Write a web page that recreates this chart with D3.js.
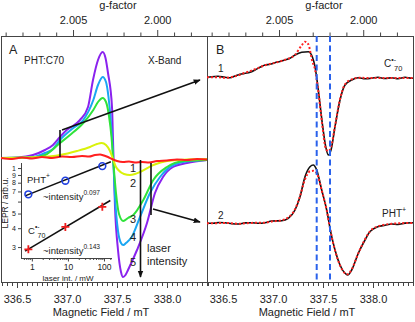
<!DOCTYPE html>
<html><head><meta charset="utf-8">
<script src="https://cdn.jsdelivr.net/npm/d3@7"></script>
<style>
body{margin:0;background:#fff}
svg{display:block}
text{font-family:"Liberation Sans",Arial,sans-serif;fill:#222}
</style>
</head><body>
<svg id="chart" width="415" height="322"></svg>
<script>
// ---------------- DATA ----------------
const fieldDomain = [336.34, 338.40];           // mT
const fieldTicks = [336.5, 337.0, 337.5, 338.0];
const gConst = 675.8;                           // g * B (mT)
const gTicks = [2.005, 2.000];
const curveLabels = ["1", "2", "3", "4", "5"];
const curveColors = ["#ff1f1f", "#d9f20a", "#2fe33a", "#1aa6f2", "#8a22ee"];

// Panel A: light-induced EPR spectra, [field mT, signal arb.u.]
const specA1 = [[336.34,0.1],[336.45,0.0],[336.55,0.15],[336.65,0.05],[336.75,0.2],[336.85,0.1],[336.95,0.25],[337.05,0.2],[337.15,0.3],[337.22,0.25],[337.28,0.4],[337.33,0.45],[337.37,0.35],[337.41,0.2],[337.45,0.0],[337.5,-0.2],[337.56,-0.3],[337.62,-0.25],[337.68,-0.35],[337.75,-0.3],[337.82,-0.35],[337.9,-0.2],[338.0,-0.15],[338.1,-0.05],[338.2,-0.1],[338.3,0.0],[338.4,-0.05]];
const specA2 = [[336.34,0.1],[336.73,0.2],[336.93,0.4],[337.10,0.8],[337.23,1.2],[337.30,1.5],[337.347,1.6],[337.39,1.4],[337.43,0.8],[337.46,0.0],[337.49,-0.8],[337.513,-1.1],[337.57,-1.5],[337.63,-1.6],[337.68,-1.5],[337.73,-1.3],[337.863,-0.6],[338.0,-0.2],[338.2,-0.05],[338.4,0.0]];
const specA3 = [[336.34,0.1],[336.66,0.15],[336.78,0.4],[336.93,1.6],[337.03,2.4],[337.163,3.6],[337.263,4.9],[337.31,5.7],[337.357,6.1],[337.39,5.7],[337.42,4.3],[337.445,2.2],[337.465,-0.5],[337.49,-3.4],[337.52,-5.5],[337.563,-6.2],[337.61,-5.9],[337.663,-5.6],[337.763,-4.1],[337.863,-2.1],[338.0,-0.8],[338.163,-0.2],[338.4,-0.1]];
const specA4 = [[336.34,0.1],[336.66,0.2],[336.78,0.6],[336.86,1.0],[336.93,1.9],[337.063,3.1],[337.163,3.9],[337.263,5.9],[337.31,7.4],[337.357,8.2],[337.39,7.7],[337.415,6.2],[337.44,3.6],[337.46,0.5],[337.48,-3.8],[337.51,-7.2],[337.54,-8.4],[337.563,-8.6],[337.59,-8.4],[337.647,-7.8],[337.73,-5.8],[337.83,-3.4],[337.93,-1.8],[338.063,-0.6],[338.23,-0.2],[338.4,-0.1]];
const specA5 = [[336.34,0.1],[336.5,0.15],[336.66,0.4],[336.78,0.9],[336.86,1.4],[336.93,2.2],[336.997,2.9],[337.06,3.3],[337.13,3.9],[337.21,5.2],[337.26,7.9],[337.31,9.9],[337.357,10.7],[337.385,10.1],[337.41,8.6],[337.45,5.2],[337.46,1.9],[337.48,-4.8],[337.51,-9.1],[337.54,-11.3],[337.56,-11.8],[337.585,-11.6],[337.61,-11.1],[337.70,-9.1],[337.80,-6.4],[337.88,-3.4],[337.96,-1.8],[338.06,-0.8],[338.20,-0.4],[338.40,-0.1]];
const specsA = [specA5, specA4, specA3, specA2, specA1];

// Panel B: spectra (black) and simulations (red dotted)
const specB1 = [[336.34,0.0],[336.387,0.006],[336.45,0.01],[336.52,0.0],[336.57,-0.005],[336.62,0.013],[336.67,0.03],[336.72,0.04],[336.77,0.05],[336.82,0.073],[336.87,0.1],[336.92,0.123],[336.97,0.13],[337.02,0.146],[337.07,0.158],[337.12,0.173],[337.17,0.19],[337.22,0.223],[337.287,0.25],[337.353,0.256],[337.393,0.206],[337.42,0.106],[337.453,-0.127],[337.493,-0.46],[337.527,-0.694],[337.553,-0.777],[337.58,-0.727],[337.62,-0.494],[337.67,-0.227],[337.72,-0.077],[337.787,-0.027],[337.853,-0.004],[337.92,-0.015],[337.987,-0.01],[338.05,0.0],[338.12,-0.012],[338.187,-0.004],[338.25,-0.014],[338.32,0.0],[338.387,-0.01],[338.4,-0.01]];
const simB1 = [[336.34,0.0],[336.45,0.0],[336.52,-0.005],[336.62,0.01],[336.72,0.045],[336.82,0.08],[336.92,0.12],[337.02,0.145],[337.12,0.175],[337.22,0.225],[337.287,0.32],[337.32,0.356],[337.353,0.33],[337.393,0.16],[337.42,0.08],[337.453,-0.14],[337.493,-0.48],[337.527,-0.71],[337.553,-0.74],[337.58,-0.7],[337.62,-0.49],[337.67,-0.22],[337.72,-0.07],[337.787,-0.02],[337.853,-0.005],[337.987,-0.008],[338.187,-0.006],[338.4,-0.008]];
const specB2 = [[336.34,0.0],[336.403,0.0],[336.46,0.008],[336.52,0.006],[336.59,-0.004],[336.653,-0.007],[336.72,0.004],[336.787,0.006],[336.85,0.0],[336.92,0.006],[336.987,0.023],[337.087,0.026],[337.153,0.05],[337.22,0.133],[337.27,0.266],[337.32,0.466],[337.37,0.566],[337.403,0.583],[337.437,0.533],[337.487,0.333],[337.537,0.133],[337.58,-0.10],[337.62,-0.267],[337.67,-0.417],[337.72,-0.50],[337.747,-0.517],[337.787,-0.467],[337.853,-0.30],[337.92,-0.167],[337.97,-0.083],[338.053,-0.033],[338.12,-0.02],[338.187,-0.007],[338.25,-0.012],[338.32,0.002],[338.387,0.006],[338.4,0.006]];
const simB2 = [[336.34,0.0],[336.403,0.0],[336.52,0.004],[336.653,-0.004],[336.787,0.004],[336.92,0.006],[336.987,0.018],[337.087,0.03],[337.153,0.06],[337.22,0.14],[337.27,0.27],[337.32,0.44],[337.37,0.52],[337.403,0.525],[337.437,0.5],[337.487,0.33],[337.537,0.13],[337.58,-0.10],[337.62,-0.27],[337.67,-0.42],[337.72,-0.50],[337.747,-0.51],[337.787,-0.46],[337.853,-0.30],[337.92,-0.16],[337.97,-0.08],[338.053,-0.03],[338.187,-0.005],[338.4,0.004]];
const offsetsB = [2.047, 0.587];
const markerFields = [337.437, 337.57];

// Inset: intensity dependence
const laserPower = [0.8, 8.5, 90];             // mW
const phtSignal = [6.7, 8.25, 10.3];
const c70Signal = [2.9, 4.08, 5.54];
const phtFit = [[0.65, 6.55], [155, 11.0]];
const c70Fit = [[0.65, 2.82], [150, 6.1]];
const insetYTicks = [3, 4, 5, 6, 7, 8, 9, 10];
const insetXTicks = [1, 10, 100];

// Annotation arrows in panel A (field, signal)
const arrowUp = [[336.95, 2.9], [338.33, 7.9]];
const barUp = [[336.93, 2.9], [336.93, 0.2]];
const arrowDown = [[337.735, -0.1], [337.735, -11.8]];
const barDown = [[337.84, -0.4], [337.84, -5.6]];
const arrowSide = [[337.86, -5.0], [338.33, -6.3]];

// ---------------- DRAW ----------------
const svg = d3.select("#chart");
const yTop = 36, yBot = 282;
const xA = d3.scaleLinear().domain(fieldDomain).range([1, 207]);
const xB = d3.scaleLinear().domain(fieldDomain).range([207, 413]);
const yA = d3.scaleLinear().domain([-12.3, 12.3]).range([yBot, yTop]);
const yB = d3.scaleLinear().domain([0, 2.46]).range([yBot, yTop]);

const defs = svg.append("defs");
defs.append("clipPath").attr("id","clipA").append("rect").attr("x",1).attr("y",yTop).attr("width",206).attr("height",yBot-yTop);
defs.append("clipPath").attr("id","clipB").append("rect").attr("x",207).attr("y",yTop).attr("width",206).attr("height",yBot-yTop);
defs.append("marker").attr("id","ah").attr("viewBox","0 0 10 10").attr("refX",9).attr("refY",5)
  .attr("markerWidth",7).attr("markerHeight",7).attr("markerUnits","userSpaceOnUse").attr("orient","auto")
  .append("path").attr("d","M0,1 L10,5 L0,9 Z").attr("fill","#111");

function drawAxes(x) {
  const g = d3.scaleLinear().domain([gConst/fieldDomain[0], gConst/fieldDomain[1]]).range(x.range());
  const minor = d3.range(336.35, 338.401, 0.05).filter(v => Math.abs(v*2 - Math.round(v*2)) > 1e-6);
  svg.append("g").attr("transform",`translate(0,${yBot})`)
    .call(d3.axisBottom(x).tickValues(minor).tickSize(4).tickFormat(""))
    .call(s => s.select(".domain").remove()).selectAll("line").attr("stroke","#444");
  svg.append("g").attr("transform",`translate(0,${yBot})`)
    .call(d3.axisBottom(x).tickValues(fieldTicks).tickSize(6).tickPadding(7).tickFormat(d3.format(".1f")))
    .call(s => s.select(".domain").remove())
    .call(s => s.selectAll("line").attr("stroke","#444"))
    .call(s => s.selectAll("text").attr("font-size",11).attr("font-family","Liberation Sans, Arial").attr("fill","#222"));
  const gMinor = d3.range(1.997, 2.0095, 0.001).filter(v => v <= g.domain()[0] && v >= g.domain()[1] && Math.abs(v*200 - Math.round(v*200)) > 1e-6);
  svg.append("g").attr("transform",`translate(0,${yTop})`)
    .call(d3.axisTop(g).tickValues(gMinor).tickSize(3.5).tickFormat(""))
    .call(s => s.select(".domain").remove()).selectAll("line").attr("stroke","#444");
  svg.append("g").attr("transform",`translate(0,${yTop})`)
    .call(d3.axisTop(g).tickValues(gTicks).tickSize(6).tickPadding(6).tickFormat(d3.format(".3f")))
    .call(s => s.select(".domain").remove())
    .call(s => s.selectAll("line").attr("stroke","#444"))
    .call(s => s.selectAll("text").attr("font-size",11).attr("font-family","Liberation Sans, Arial").attr("fill","#222"));
  const r = x.range();
  svg.append("rect").attr("x",r[0]+0.5).attr("y",yTop+0.5).attr("width",r[1]-r[0]).attr("height",yBot-yTop)
    .attr("fill","none").attr("stroke","#444").attr("stroke-width",1);
  svg.append("text").attr("x", r[0]+117).attr("y",9).attr("text-anchor","middle").attr("font-size",11).text("g-factor");
  svg.append("text").attr("x", r[0]+100).attr("y",316).attr("text-anchor","middle").attr("font-size",11).text("Magnetic Field / mT");
}
drawAxes(xA);
drawAxes(xB);

// Panel A spectra
const lineA = d3.line().x(d => xA(d[0])).y(d => yA(d[1])).curve(d3.curveMonotoneX);
const gA = svg.append("g").attr("clip-path","url(#clipA)");
specsA.forEach((s,i) => {
  gA.append("path").datum(s).attr("d", lineA).attr("fill","none")
    .attr("stroke", curveColors[4-i]).attr("stroke-width",2).attr("stroke-linejoin","round");
});

// Annotations A
const la = d3.line().x(d => xA(d[0])).y(d => yA(d[1]));
[barUp, barDown].forEach(b => svg.append("path").datum(b).attr("d",la).attr("stroke","#111").attr("stroke-width",1.6));
[arrowUp, arrowDown, arrowSide].forEach(a => svg.append("path").datum(a).attr("d",la).attr("stroke","#111")
  .attr("stroke-width",1.6).attr("marker-end","url(#ah)"));

// labels A
svg.append("text").attr("x",9).attr("y",54).attr("font-size",12.5).text("A");
svg.append("text").attr("x",24).attr("y",64).attr("font-size",10).text("PHT:C70");
svg.append("text").attr("x",148).attr("y",64).attr("font-size",10).text("X-Band");
const labY = [172, 187, 223, 241, 266];
curveLabels.forEach((t,i) => svg.append("text").attr("x",133).attr("y",labY[i]).attr("text-anchor","middle").attr("font-size",11).text(t));
svg.append("text").attr("x",147).attr("y",252).attr("font-size",11).text("laser");
svg.append("text").attr("x",147).attr("y",265).attr("font-size",11).text("intensity");

// Inset
const ix = d3.scaleLog().domain([0.5, 167]).range([21, 112]);
const iy = d3.scaleLog().domain([2.54, 10.8]).range([258, 163]);
svg.append("line").attr("x1",21.5).attr("x2",21.5).attr("y1",163).attr("y2",258).attr("stroke","#444");
svg.append("line").attr("x1",21).attr("x2",112).attr("y1",258.5).attr("y2",258.5).attr("stroke","#444");
svg.append("g").attr("transform","translate(21,0)")
  .call(d3.axisLeft(iy).tickValues(insetYTicks).tickSize(3).tickPadding(2).tickFormat(d => d===10 ? "1" : (d===6 ? "" : d)))
  .call(s => s.select(".domain").remove())
  .call(s => s.selectAll("line").attr("stroke","#444"))
  .call(s => s.selectAll("text").attr("font-size",7).attr("fill","#222"));
const ixMinor = [0.6,0.7,0.8,0.9,2,3,4,5,6,7,8,9,20,30,40,50,60,70,80,90,150];
svg.append("g").attr("transform","translate(0,258)")
  .call(d3.axisBottom(ix).tickValues(ixMinor).tickSize(2).tickFormat(""))
  .call(s => s.select(".domain").remove()).selectAll("line").attr("stroke","#444");
svg.append("g").attr("transform","translate(0,258)")
  .call(d3.axisBottom(ix).tickValues(insetXTicks).tickSize(3.5).tickPadding(2.5).tickFormat(d3.format("d")))
  .call(s => s.select(".domain").remove())
  .call(s => s.selectAll("line").attr("stroke","#444"))
  .call(s => s.selectAll("text").attr("font-size",8.5).attr("fill","#222"));
svg.append("text").attr("x",68).attr("y",281).attr("text-anchor","middle").attr("font-size",8).text("laser int. / mW");
svg.append("text").attr("transform","translate(8,203) rotate(-90)").attr("text-anchor","middle").attr("font-size",8.5).text("LEPR / arb.u.");

const li = d3.line().x(d => ix(d[0])).y(d => iy(d[1]));
[phtFit, c70Fit].forEach(f => svg.append("path").datum(f).attr("d",li).attr("stroke","#111").attr("stroke-width",1.5));
svg.selectAll(".pht").data(laserPower.map((p,i)=>[p, phtSignal[i]])).enter().append("circle")
  .attr("cx", d => ix(d[0])).attr("cy", d => iy(d[1])).attr("r",3.4)
  .attr("fill","none").attr("stroke","#1f3fe0").attr("stroke-width",1.6);
svg.selectAll(".c70").data(laserPower.map((p,i)=>[p, c70Signal[i]])).enter().append("path")
  .attr("d", d => { const cx = ix(d[0]), cy = iy(d[1]); return `M${cx-4},${cy}H${cx+4}M${cx},${cy-4}V${cy+4}`; })
  .attr("stroke","#ee1c1c").attr("stroke-width",1.8);

function supText(x, y, base, sup, sub, fs) {
  const t = svg.append("text").attr("x",x).attr("y",y).attr("font-size",fs);
  t.append("tspan").text(base);
  if (sup) t.append("tspan").attr("dy",-5).attr("font-size",fs*0.7).text(sup);
  if (sub) t.append("tspan").attr("dy", sup ? 9 : 3).attr("dx", sup ? -2 : 0).attr("font-size",fs*0.75).text(sub);
}
supText(27, 183, "PHT", "+", null, 9.5);
supText(43, 200, "~intensity", "0.097", null, 9.5);
supText(28, 234, "C", "•-", "70", 9.5);
supText(43, 254, "~intensity", "0.143", null, 9.5);

// Panel B spectra
const gB = svg.append("g").attr("clip-path","url(#clipB)");
[[specB1, simB1], [specB2, simB2]].forEach((pair, i) => {
  const lb = d3.line().x(d => xB(d[0])).y(d => yB(d[1] + offsetsB[i])).curve(d3.curveMonotoneX);
  gB.append("path").datum(pair[0]).attr("d", lb).attr("fill","none").attr("stroke","#111").attr("stroke-width",1.6);
  gB.append("path").datum(pair[1]).attr("d", lb).attr("fill","none").attr("stroke","#ff2020")
    .attr("stroke-width",2).attr("stroke-dasharray","2,2");
});
markerFields.forEach(f => gB.append("line").attr("x1", xB(f)).attr("x2", xB(f)).attr("y1", yTop).attr("y2", yBot)
  .attr("stroke","#2a62ec").attr("stroke-width",2).attr("stroke-dasharray","6,3.5"));

svg.append("text").attr("x",216).attr("y",54).attr("font-size",12.5).text("B");
svg.append("text").attr("x",218).attr("y",72).attr("font-size",10).text("1");
svg.append("text").attr("x",218).attr("y",219).attr("font-size",10).text("2");
supText(384, 67, "C", "•-", "70", 10);
supText(382, 217, "PHT", "+", null, 10);
</script>
</body></html>
